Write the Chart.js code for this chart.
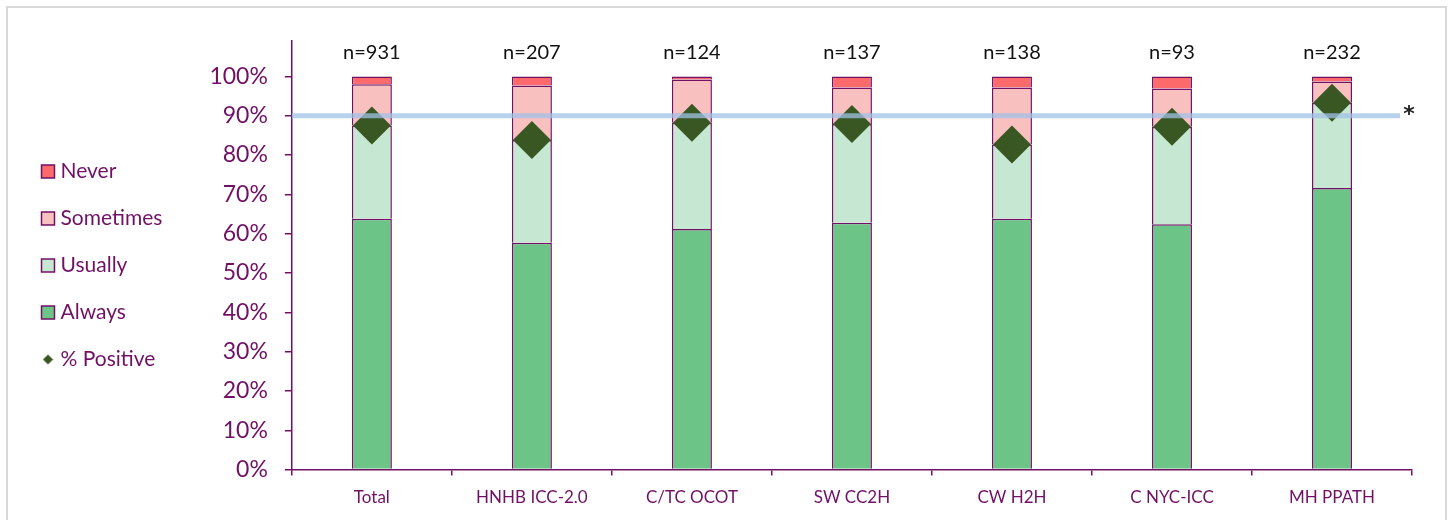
<!DOCTYPE html>
<html>
<head>
<meta charset="utf-8">
<script src="https://cdn.jsdelivr.net/npm/chart.js@4.4.1/dist/chart.umd.min.js"></script>
<style>
  html, body { margin: 0; padding: 0; background: #fff; }
  #frame { position: absolute; left: 6px; top: 6px; width: 1437px; height: 600px; border: 2px solid #d9d9d9; }
  #wrap { position: absolute; left: 0; top: 0; width: 1450px; height: 520px; }
</style>
</head>
<body>
<div id="frame"></div>
<div id="wrap"><canvas id="chart" width="1450" height="520"></canvas></div>
<script>
const categories = ['Total', 'HNHB ICC-2.0', 'C/TC OCOT', 'SW CC2H', 'CW H2H', 'C NYC-ICC', 'MH PPATH'];
const sampleSizes = [931, 207, 124, 137, 138, 93, 232];
const always = [63.8, 57.7, 61.2, 62.8, 63.8, 62.4, 71.6];
const usually = [23.7, 26.1, 27.0, 25.1, 18.9, 24.8, 21.7];
const sometimes = [10.5, 13.9, 11.0, 9.3, 14.5, 9.7, 5.4];
const never = [2.0, 2.3, 0.8, 2.8, 2.8, 3.1, 1.3];
const positive = [87.5, 83.8, 88.2, 87.9, 82.7, 87.2, 93.3];
const benchmark = 90;

const purple = '#701166';
const fontFamily = 'Lato, "Open Sans", sans-serif';

// small diamond for the legend entry
const legendDiamond = document.createElement('canvas');
legendDiamond.width = 11;
legendDiamond.height = 11;
(function () {
  const c = legendDiamond.getContext('2d');
  c.fillStyle = '#385723';
  c.beginPath();
  c.moveTo(5.5, 0.5); c.lineTo(10.5, 5.5); c.lineTo(5.5, 10.5); c.lineTo(0.5, 5.5);
  c.closePath();
  c.fill();
})();

const extras = {
  id: 'extras',
  afterLayout(chart) {
    // nudge the legend block up a little
    chart.legend.top -= 15;
    chart.legend.bottom -= 15;
  },
  afterDatasetsDraw(chart) {
    const { ctx, chartArea, scales } = chart;
    const x = scales.x, y = scales.y;
    ctx.save();
    // benchmark line
    const by = y.getPixelForValue(benchmark);
    ctx.strokeStyle = 'rgba(160, 193, 231, 0.75)';
    ctx.lineWidth = 5;
    ctx.beginPath();
    ctx.moveTo(chartArea.left, by);
    ctx.lineTo(chartArea.right - 12, by);
    ctx.stroke();
    ctx.fillStyle = '#222';
    ctx.font = 'bold 22px "DejaVu Sans", sans-serif';
    ctx.textAlign = 'center';
    ctx.textBaseline = 'alphabetic';
    ctx.fillText('*', chartArea.right - 3, by + 5);
    // sample sizes
    ctx.fillStyle = '#111';
    ctx.font = '20px ' + fontFamily;
    ctx.textBaseline = 'middle';
    sampleSizes.forEach((n, i) => {
      ctx.fillText('n=' + n, x.getPixelForValue(i), chartArea.top + 12);
    });
    ctx.restore();
  }
};

function barSet(label, data, color) {
  return {
    label, data,
    backgroundColor: color,
    borderColor: purple,
    borderWidth: 1.5,
    pointStyle: 'rect',
    categoryPercentage: 1,
    barPercentage: 0.25
  };
}

new Chart(document.getElementById('chart'), {
  type: 'bar',
  data: {
    labels: categories,
    datasets: [
      barSet('Always', always, '#6dc487'),
      barSet('Usually', usually, '#c6e7d1'),
      barSet('Sometimes', sometimes, '#f9c0c0'),
      barSet('Never', never, '#fd6a6c'),
      {
        type: 'line',
        label: '% Positive',
        data: positive,
        showLine: false,
        pointStyle: 'rectRot',
        pointRadius: 19,
        pointHoverRadius: 19,
        pointBackgroundColor: '#385723',
        pointBorderWidth: 0,
        backgroundColor: '#385723',
        borderColor: '#385723',
        order: -1
      }
    ]
  },
  options: {
    responsive: false,
    animation: false,
    layout: { padding: { left: 20, top: 41, right: 38, bottom: 0 } },
    plugins: {
      tooltip: { enabled: false },
      legend: {
        position: 'left',
        labels: {
          usePointStyle: true,
          boxWidth: 4,
          boxHeight: 13,
          padding: 26,
          color: purple,
          font: { family: fontFamily, size: 21 },
          generateLabels(chart) {
            const items = Chart.defaults.plugins.legend.labels.generateLabels(chart);
            items.forEach(it => {
              if (it.datasetIndex === 4) { it.pointStyle = legendDiamond; it.lineWidth = 0; }
            });
            return items;
          },
          sort(a, b) {
            const key = it => it.datasetIndex === 4 ? 10 : 3 - it.datasetIndex;
            return key(a) - key(b);
          }
        }
      }
    },
    scales: {
      x: {
        stacked: true,
        border: { color: purple, width: 1.5 },
        grid: { offset: true, drawOnChartArea: false, drawTicks: true, tickLength: 6, color: purple, lineWidth: 1.5 },
        ticks: { color: purple, padding: 12, font: { family: fontFamily, size: 17 } }
      },
      y: {
        stacked: true,
        min: 0,
        max: 109,
        afterFit(scale) { scale.width += 20; },
        border: { color: purple, width: 1.5 },
        grid: {
          drawOnChartArea: false, drawTicks: true, tickLength: 7, lineWidth: 1.5,
          color: ctx => (ctx.tick && ctx.tick.value > 100) ? 'rgba(0,0,0,0)' : purple
        },
        ticks: {
          stepSize: 10,
          color: purple,
          padding: 17,
          font: { family: fontFamily, size: 23 },
          callback: v => v > 100 ? '' : v + '%'
        }
      }
    }
  },
  plugins: [extras]
});
</script>
</body>
</html>
